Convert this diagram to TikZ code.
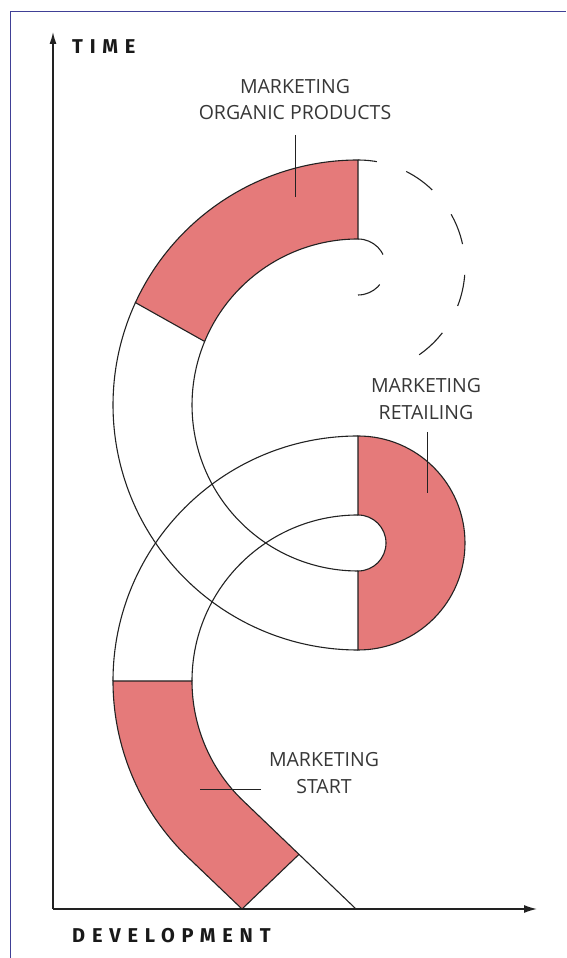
\documentclass[tikz,border=0pt]{standalone}
\usepackage{fontspec}
\setmainfont{Open Sans}
\newfontfamily\titlefont[LetterSpace=34]{Fira Sans}
\usetikzlibrary{arrows.meta,calc}
\definecolor{bandred}{RGB}{229,122,122}
\definecolor{framecol}{RGB}{64,64,150}
\definecolor{inkcol}{RGB}{34,34,34}
\definecolor{textcol}{RGB}{55,55,55}
\begin{document}
\begin{tikzpicture}[x=1pt,y=1pt,
  band/.style={draw=inkcol, line width=1.1pt},
  redband/.style={band, fill=bandred},
  axis/.style={draw=inkcol, line width=1.4pt},
  label/.style={font=\fontsize{19.5}{26.5}\selectfont, text=textcol, align=center, inner sep=0pt},
  title/.style={font=\titlefont\bfseries\fontsize{20}{24}\selectfont, text=black!90, inner sep=0pt},
  leader/.style={draw=inkcol, line width=1pt},
  dashA/.style={band, dash pattern=on 32pt off 31pt, dash phase=13pt},
  dashB/.style={band, dash pattern=on 31pt off 32pt}
]
\useasboundingbox (0,0) rectangle (566,958);
% frame
\draw[framecol, line width=1pt] (10,0) -- (10,946) -- (566,946);
% centres
\coordinate (C1) at (358,277);
\coordinate (C2) at (358,553);
\coordinate (C4) at (358,691);
% start band
\coordinate (S1) at (113,277);
\coordinate (S2) at (192,277);
\coordinate (R1) at ($(C1)+(225:166)$);
\coordinate (B1) at (242,49);
\coordinate (B2) at (356,49);
\coordinate (X1) at ($(R1)!0.506!(B2)$);
\path[redband] (S1) arc[start angle=180,end angle=225,radius=245] -- (B1) -- (X1) -- (R1)
  arc[start angle=225,end angle=180,radius=166] -- cycle;
\draw[band] (X1) -- (B2);
% top red segment
\coordinate (T1) at (358,798);
\coordinate (T2) at ($(C2)+(157.5:166)$);
\coordinate (T3) at ($(C2)+(155.3:245)$);
\path[redband] (T1) arc[start angle=90,end angle=155.3,radius=245] -- (T2)
  arc[start angle=157.5,end angle=90,radius=166] -- cycle;
% upper white band
\draw[band] (T3) arc[start angle=155.3,end angle=270,radius=245];
\draw[band] (T2) arc[start angle=157.5,end angle=270,radius=166];
% retailing red segment
\coordinate (Q1) at (358,522);
\coordinate (Q2) at (358,387);
\path[redband] (Q1) arc[start angle=90,end angle=-90,radius=107] -- (Q2)
  arc[start angle=-90,end angle=90,radius=28] -- cycle;
% lower white band
\draw[band] (S1) arc[start angle=180,end angle=90,radius=245];
\draw[band] (S2) arc[start angle=180,end angle=90,radius=166];
% dashed continuation
\coordinate (D2) at (358,719);
\draw[dashA] (T1) arc[start angle=90,end angle=-55.4,radius=107];
\draw[dashB] (D2) arc[start angle=90,end angle=-90,radius=28];
% axes
\coordinate (O) at (53,49);
\coordinate (XE) at (537,49);
\coordinate (YE) at (53,926);
\draw[axis,-{Latex[length=13pt,width=8pt]}] (O) -- (XE);
\draw[axis,-{Latex[length=12pt,width=7pt]}] (O) -- (YE);
\node[title, anchor=base west] (time) at (72,904) {TIME};
\node[title, anchor=base west] (dev) at (72,16) {DEVELOPMENT};
% labels (anchor base = baseline of the last line)
\node[label, anchor=base] (lorg) at (295,838) {MARKETING\\ORGANIC PRODUCTS};
\node[label, anchor=base] (lret) at (426,538.7) {MARKETING\\RETAILING};
\node[label, anchor=base] (lsta) at (324,164.7) {MARKETING\\START};
% leaders
\coordinate (a1) at (295,823); \coordinate (a2) at (295,761);
\coordinate (b1) at (427,526); \coordinate (b2) at (427,465);
\coordinate (c1) at (261,168); \coordinate (c2) at (200,168);
\draw[leader] (a1) -- (a2);
\draw[leader] (b1) -- (b2);
\draw[leader] (c1) -- (c2);
\end{tikzpicture}
\end{document}
